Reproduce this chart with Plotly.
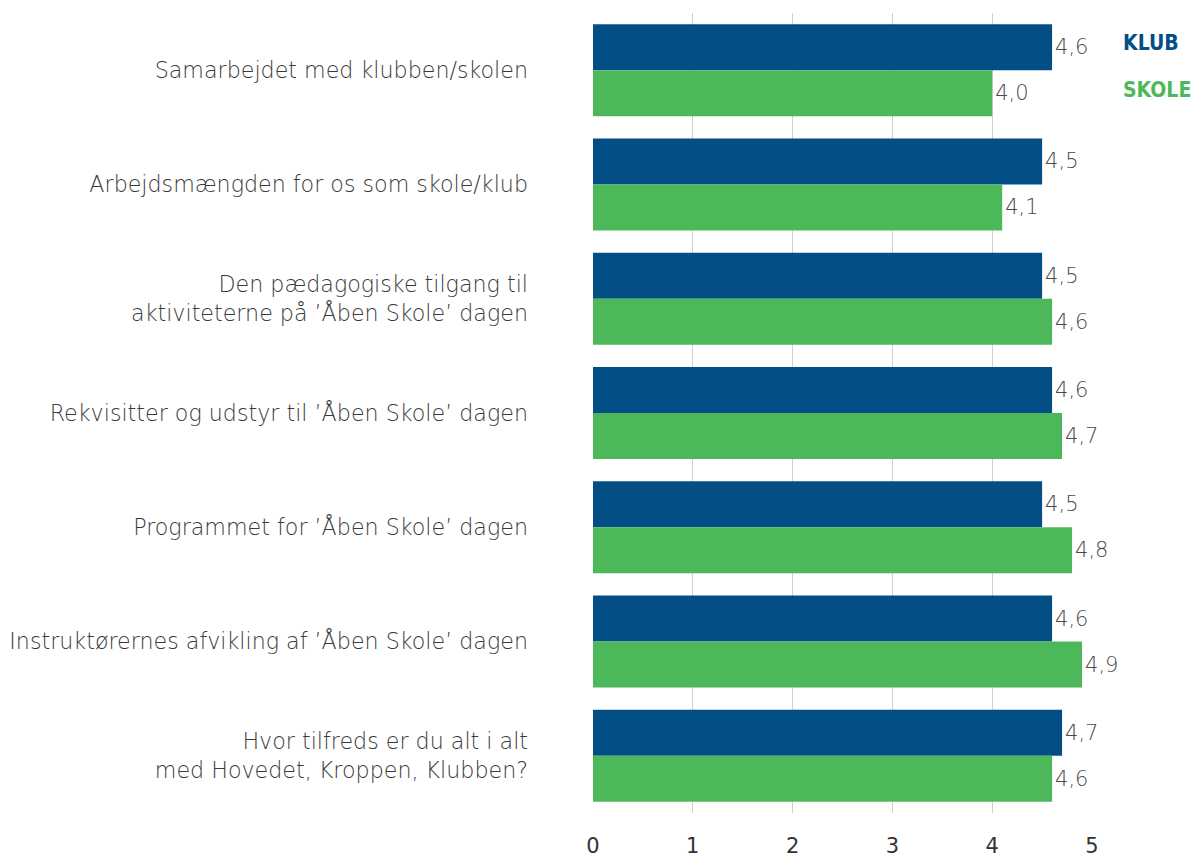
import plotly.graph_objects as go

categories = [
    "Samarbejdet med klubben/skolen",
    "Arbejdsmængden for os som skole/klub",
    "Den pædagogiske tilgang til<br>aktiviteterne på ’Åben Skole’ dagen",
    "Rekvisitter og udstyr til ’Åben Skole’ dagen",
    "Programmet for ’Åben Skole’ dagen",
    "Instruktørernes afvikling af ’Åben Skole’ dagen",
    "Hvor tilfreds er du alt i alt<br>med Hovedet, Kroppen, Klubben?",
]
klub = [4.6, 4.5, 4.5, 4.6, 4.5, 4.6, 4.7]
skole = [4.0, 4.1, 4.6, 4.7, 4.8, 4.9, 4.6]
x_ticks = [0, 1, 2, 3, 4, 5]

BLUE = "#034F85"
GREEN = "#4DB85A"
FONT = "DejaVu Sans"
GREY = "#3A3A3A"

L, R, T, B = 593, 102, 13, 44
W, H = 1194, 857

fig = go.Figure()
for name, vals, col in [("KLUB", klub, BLUE), ("SKOLE", skole, GREEN)]:
    fig.add_trace(go.Bar(
        y=categories, x=vals, orientation="h", name=name,
        marker=dict(color=col, line=dict(width=0)),
        texttemplate="%{x:.1f}", textposition="outside",
        textfont=dict(family=FONT, size=21, color="#4A4A4A", weight=200),
        cliponaxis=False,
    ))

fig.update_layout(
    width=W, height=H,
    margin=dict(l=L, r=R, t=T, b=B, autoexpand=False),
    barmode="group", bargap=0.195, bargroupgap=0,
    plot_bgcolor="white", paper_bgcolor="white",
    separators=",.",
    showlegend=False,
    font=dict(family=FONT, color=GREY),
    xaxis=dict(
        range=[0, 5], tickvals=x_ticks, showgrid=True, gridcolor="#D0D0D0",
        gridwidth=1, zeroline=False, showline=False, automargin=False,
        tickfont=dict(family=FONT, size=21, color="#333333"),
        ticks="", ticklabelstandoff=18,
    ),
    yaxis=dict(
        autorange="reversed", showgrid=False, showline=False, zeroline=False,
        automargin=False,
        tickfont=dict(family=FONT, size=22.2, color=GREY, weight=200),
        ticks="", ticklabelstandoff=64,
    ),
)
pw = W - L - R
ph = H - T - B
LEG = "DejaVu Sans Condensed, Liberation Sans Narrow, DejaVu Sans"
fig.add_annotation(text="<b>KLUB</b>", x=(1151 - L) / pw, y=1 - (43 - T) / ph,
                   xref="paper", yref="paper", showarrow=False,
                   xanchor="center", yanchor="middle",
                   font=dict(family=LEG, size=21, color=BLUE))
fig.add_annotation(text="<b>SKOLE</b>", x=(1157 - L) / pw, y=1 - (90 - T) / ph,
                   xref="paper", yref="paper", showarrow=False,
                   xanchor="center", yanchor="middle",
                   font=dict(family=LEG, size=21, color=GREEN))

fig.write_html(
    "out.html",
    config={"displayModeBar": False},
    post_script="document.body.style.margin='0';document.body.style.overflow='hidden';",
)
